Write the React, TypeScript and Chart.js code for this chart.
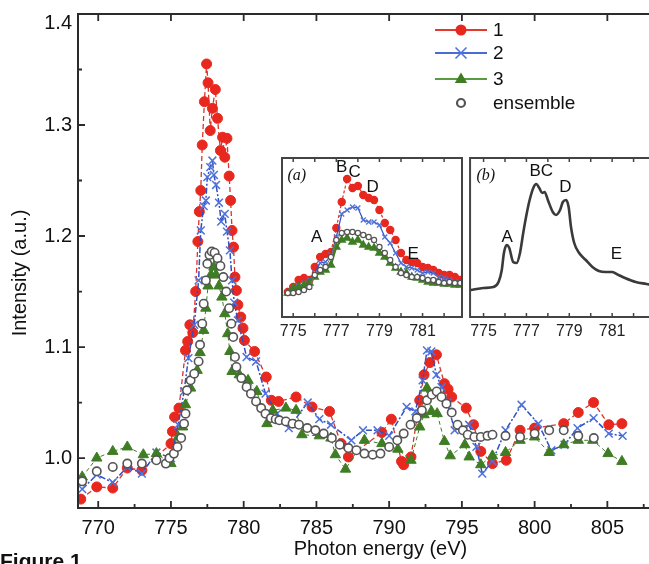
import React, { useEffect, useRef } from 'react';
import { Chart, registerables } from 'chart.js';
Chart.register(...registerables);

// ---------- main spectrum data ----------
const redEnergy = [768.8, 769.9, 771.0, 772.0, 773.0, 775.0, 775.1, 775.25, 775.55, 776.0, 776.15, 776.3, 776.5, 776.7, 776.85, 776.95, 777.05, 777.15, 777.3, 777.45, 777.55, 777.7, 777.85, 778.05, 778.2, 778.4, 778.55, 778.7, 778.85, 779.0, 779.1, 779.2, 779.3, 779.4, 779.5, 779.6, 779.8, 779.95, 780.05, 780.75, 781.55, 781.9, 782.4, 783.6, 784.7, 785.9, 786.7, 787.2, 789.5, 790.15, 790.85, 791.0, 791.5, 792.1, 792.4, 792.8, 793.25, 793.8, 794.05, 794.3, 795.3, 795.8, 796.3, 797.1, 798.05, 799.0, 800.0, 802.0, 803.0, 804.05, 805.1, 806.0];
const redIntensity = [0.963, 0.974, 0.973, 0.991, 0.989, 1.013, 1.024, 1.037, 1.045, 1.097, 1.105, 1.12, 1.113, 1.15, 1.195, 1.222, 1.241, 1.282, 1.321, 1.355, 1.338, 1.295, 1.315, 1.332, 1.306, 1.277, 1.289, 1.271, 1.288, 1.254, 1.232, 1.205, 1.19, 1.163, 1.151, 1.138, 1.127, 1.117, 1.106, 1.096, 1.073, 1.052, 1.051, 1.055, 1.046, 1.042, 1.013, 1.001, 1.023, 1.035, 0.997, 0.994, 1.001, 1.052, 1.075, 1.086, 1.093, 1.067, 1.062, 1.055, 1.045, 1.03, 1.006, 0.995, 0.998, 1.025, 1.027, 1.031, 1.041, 1.05, 1.03, 1.031];

const blueEnergy = [768.9, 769.9, 771.0, 772.0, 773.0, 774.0, 775.0, 775.5, 775.9, 776.2, 776.6, 776.9, 777.05, 777.25, 777.4, 777.5, 777.7, 777.85, 777.95, 778.1, 778.3, 778.45, 778.7, 778.85, 779.05, 779.2, 779.35, 779.6, 780.2, 780.85, 781.5, 782.3, 783.1, 784.4, 785.2, 786.0, 787.4, 788.2, 789.2, 790.0, 791.2, 791.8, 792.3, 792.6, 792.9, 793.25, 793.6, 794.0, 794.5, 795.5, 796.0, 796.4, 797.1, 798.0, 799.1, 800.25, 801.15, 802.05, 802.95, 804.05, 805.1, 806.05];
const blueIntensity = [0.972, 0.985, 0.978, 0.992, 0.986, 1.005, 1.0, 1.03, 1.06, 1.09, 1.12, 1.16, 1.205, 1.227, 1.232, 1.253, 1.262, 1.268, 1.255, 1.246, 1.23, 1.213, 1.22, 1.204, 1.187, 1.16, 1.14, 1.124, 1.091, 1.087, 1.058, 1.04, 1.027, 1.05, 1.035, 1.03, 1.016, 1.025, 1.025, 1.02, 1.046, 1.042, 1.07, 1.097, 1.096, 1.075, 1.064, 1.05, 1.025, 1.03, 1.01, 0.986, 0.997, 1.025, 1.048, 1.031, 1.007, 1.012, 1.027, 1.036, 1.022, 1.02];

const greenEnergy = [768.9, 769.9, 771.0, 772.0, 773.1, 774.0, 775.0, 775.5, 775.8, 776.0, 776.35, 776.8, 777.0, 777.25, 777.4, 777.55, 777.75, 777.95, 778.1, 778.3, 778.5, 778.7, 778.9, 779.05, 779.2, 779.7, 780.3, 780.9, 781.6, 782.0, 782.9, 783.6, 784.0, 785.2, 786.0, 786.3, 787.0, 788.3, 789.5, 790.6, 791.5, 792.1, 792.4, 792.6, 792.9, 793.3, 793.8, 794.2, 795.2, 795.5, 796.3, 797.1, 798.0, 799.0, 800.0, 801.0, 802.0, 803.0, 804.0, 805.05, 806.0];
const greenIntensity = [0.983, 1.0, 1.006, 1.01, 1.003, 1.004, 0.995, 1.019, 1.028, 1.048, 1.063, 1.079, 1.095, 1.115, 1.135, 1.155, 1.165, 1.172, 1.165, 1.155, 1.145, 1.13, 1.112, 1.096, 1.078, 1.075, 1.07, 1.06, 1.031, 1.043, 1.045, 1.043, 1.021, 1.02, 1.018, 1.003, 0.99, 1.016, 1.013, 1.008, 0.998, 1.028, 1.039, 1.063, 1.042, 1.04, 1.015, 1.002, 1.012, 1.001, 0.994, 1.002, 1.005, 1.016, 1.019, 1.005, 1.012, 1.016, 1.016, 1.004, 0.997];

const ensembleEnergy = [768.9, 769.9, 771.0, 772.0, 773.0, 774.0, 774.65, 774.9, 775.2, 775.45, 775.7, 775.9, 776.0, 776.1, 776.35, 776.6, 776.9, 777.0, 777.15, 777.25, 777.4, 777.5, 777.65, 777.8, 778.0, 778.2, 778.4, 778.6, 778.8, 779.0, 779.15, 779.28, 779.4, 779.5, 779.84, 780.2, 780.5, 780.85, 781.2, 781.5, 781.87, 782.2, 782.45, 782.9, 783.36, 783.8, 784.37, 784.93, 785.5, 786.06, 786.6, 787.2, 787.75, 788.3, 788.87, 789.4, 790.0, 790.56, 791.0, 791.47, 791.9, 792.25, 792.6, 792.93, 793.27, 793.6, 793.94, 794.3, 794.7, 795.07, 795.4, 795.86, 796.3, 796.76, 797.1, 798.0, 799.0, 800.0, 801.0, 802.0, 803.0, 804.07];
const ensembleIntensity = [0.979, 0.988, 0.992, 0.995, 0.995, 0.998, 0.995, 1.0, 1.004, 1.01, 1.018, 1.031, 1.04, 1.061, 1.07, 1.076, 1.087, 1.102, 1.121, 1.139, 1.16, 1.175, 1.183, 1.186, 1.185, 1.18, 1.173, 1.163, 1.15, 1.135, 1.121, 1.109, 1.091, 1.082, 1.072, 1.064, 1.058, 1.051, 1.045, 1.04, 1.036, 1.035, 1.034, 1.033, 1.031, 1.03, 1.027, 1.025, 1.022, 1.018, 1.012, 1.009, 1.007, 1.004, 1.003, 1.004, 1.01, 1.016, 1.022, 1.03, 1.036, 1.043, 1.052, 1.057, 1.06, 1.055, 1.049, 1.041, 1.03, 1.025, 1.021, 1.019, 1.019, 1.02, 1.021, 1.02, 1.019, 1.022, 1.025, 1.025, 1.02, 1.018];

const seriesNames = ['1', '2', '3', 'ensemble'];
const xMajorTicks = [770, 775, 780, 785, 790, 795, 800, 805];
const xMinorTicks = [772.5, 777.5, 782.5, 787.5, 792.5, 797.5, 802.5, 807.5];
const yMajorTicks = [1.0, 1.1, 1.2, 1.3, 1.4];
const yMinorTicks = [1.05, 1.15, 1.25, 1.35];

// ---------- inset (a): zoom of L3 edge ----------
const insetAEnergy = [774.75, 775.0, 775.25, 775.5, 775.75, 776.0, 776.25, 776.5, 776.75, 777.0, 777.25, 777.5, 777.75, 778.0, 778.25, 778.5, 778.75, 779.0, 779.25, 779.5, 779.75, 780.0, 780.25, 780.5, 780.75, 781.0, 781.25, 781.5, 781.75, 782.0, 782.25, 782.5, 782.75];
const insetARed = [25, 30, 37, 39, 37, 50, 60, 63, 65, 89, 115, 138, 129, 131, 122, 119, 117, 107, 94, 87, 77, 64, 57, 55, 54, 50, 49, 47, 44, 42, 42, 40, 37];
const insetABlue = [25, 28, 30, 34, 37, 44, 54, 55, 62, 80, 103, 107, 110, 109, 97, 95, 95, 92, 80, 74, 64, 54, 50, 49, 47, 44, 45, 44, 40, 39, 37, 35, 34];
const insetAGreen = [24, 29, 30, 32, 34, 40, 45, 47, 52, 70, 77, 79, 75, 77, 72, 70, 69, 64, 60, 54, 49, 45, 44, 40, 39, 37, 35, 34, 34, 33, 33, 32, 32];
const insetAEnsemble = [24, 24, 25, 27, 30, 42, 47, 50, 60, 77, 84, 85, 85, 84, 82, 80, 77, 70, 64, 57, 50, 44, 42, 40, 40, 39, 37, 37, 35, 34, 35, 34, 34];
const insetALabels = ['A', 'B', 'C', 'D', 'E'];
const insetALabelX = [776.09, 777.25, 777.85, 778.68, 780.57];
const insetALabelY = [80, 150, 145, 130, 63];

// ---------- inset (b): reference spectrum ----------
const insetBEnergy = [774.4, 775.0, 775.46, 775.7, 775.85, 775.95, 776.08, 776.2, 776.38, 776.54, 776.7, 776.85, 777.0, 777.15, 777.34, 777.46, 777.6, 777.74, 777.85, 778.0, 778.23, 778.38, 778.57, 778.7, 778.85, 778.97, 779.08, 779.23, 779.46, 779.77, 780.08, 780.38, 780.7, 781.0, 781.3, 781.6, 782.1, 782.6, 782.85];
const insetBIntensity = [27, 29, 30, 35, 47, 64, 72, 69, 55, 54, 64, 84, 102, 117, 130, 133, 129, 124, 125, 117, 105, 102, 107, 115, 117, 110, 90, 74, 64, 57, 50, 46, 45, 45, 42, 39, 35, 33, 32];
const insetBLabels = ['A', 'BC', 'D', 'E'];
const insetBLabelX = [776.1, 777.69, 778.82, 781.2];
const insetBLabelY = [80, 146, 130, 63];

const insetTickLabels = [775, 777, 779, 781];
const insetTickMarks = [775, 776, 777, 778, 779, 780, 781, 782];

const SANS = '"Liberation Sans", Arial, sans-serif';
const RED = '#e8281e';
const BLUE = '#4f72dc';
const BLUE_LINE = '#2f4fc4';
const GREEN = '#3f7d25';
const ENS = '#555555';

const pts = (xs: number[], ys: number[]) => xs.map((x, i) => ({ x, y: ys[i] }));

function drawMarker(ctx: CanvasRenderingContext2D, kind: string, x: number, y: number, r: number) {
  ctx.beginPath();
  if (kind === 'circle') {
    ctx.arc(x, y, r, 0, Math.PI * 2);
    ctx.fill();
  } else if (kind === 'cross') {
    ctx.moveTo(x - r, y - r); ctx.lineTo(x + r, y + r);
    ctx.moveTo(x + r, y - r); ctx.lineTo(x - r, y + r);
    ctx.stroke();
  } else if (kind === 'triangle') {
    ctx.moveTo(x, y - r);
    ctx.lineTo(x + r * 0.95, y + r * 0.6);
    ctx.lineTo(x - r * 0.95, y + r * 0.6);
    ctx.closePath();
    ctx.fill();
  } else if (kind === 'ring') {
    ctx.arc(x, y, r, 0, Math.PI * 2);
    ctx.fillStyle = '#fff';
    ctx.fill();
    ctx.stroke();
  }
}

const mainDecor = {
  id: 'mainDecor',
  afterDraw(chart: any) {
    const { ctx, chartArea: a, scales } = chart;
    const x = scales.x, y = scales.y;
    ctx.save();
    ctx.strokeStyle = '#2b2b2b';
    ctx.lineWidth = 2;
    ctx.beginPath();
    ctx.moveTo(a.left, a.top); ctx.lineTo(a.right, a.top);
    ctx.moveTo(a.left, a.top - 1); ctx.lineTo(a.left, a.bottom + 1);
    ctx.moveTo(a.left, a.bottom); ctx.lineTo(a.right, a.bottom);
    ctx.stroke();
    ctx.lineWidth = 1.8;
    ctx.beginPath();
    xMajorTicks.forEach((v) => {
      const px = x.getPixelForValue(v);
      ctx.moveTo(px, a.bottom); ctx.lineTo(px, a.bottom - 7);
      ctx.moveTo(px, a.top); ctx.lineTo(px, a.top + 7);
    });
    xMinorTicks.forEach((v) => {
      const px = x.getPixelForValue(v);
      ctx.moveTo(px, a.bottom); ctx.lineTo(px, a.bottom - 4);
    });
    yMajorTicks.forEach((v) => {
      const py = y.getPixelForValue(v);
      ctx.moveTo(a.left, py); ctx.lineTo(a.left + 7, py);
    });
    yMinorTicks.forEach((v) => {
      const py = y.getPixelForValue(v);
      ctx.moveTo(a.left, py); ctx.lineTo(a.left + 4, py);
    });
    ctx.stroke();

    // y tick labels (the topmost one sits just inside the frame, as in the figure)
    ctx.fillStyle = '#111';
    ctx.font = `20px ${SANS}`;
    ctx.textAlign = 'right';
    ctx.textBaseline = 'middle';
    yMajorTicks.forEach((v) => {
      const py = Math.max(y.getPixelForValue(v), a.top + 9);
      ctx.fillText(v.toFixed(1), a.left - 6, py);
    });

    // y-axis title
    ctx.save();
    ctx.translate(20, 273);
    ctx.rotate(-Math.PI / 2);
    ctx.fillStyle = '#111';
    ctx.font = `20px ${SANS}`;
    ctx.textAlign = 'center';
    ctx.textBaseline = 'middle';
    ctx.fillText('Intensity (a.u.)', 0, 0);
    ctx.restore();

    // legend
    const rows = [30, 53, 79, 103];
    const lineCols = ['#e5392e', '#4a6bd6', '#5a9a40', null];
    const kinds = ['circle', 'cross', 'triangle', 'ring'];
    const fills = [RED, BLUE, GREEN, '#fff'];
    rows.forEach((ry, i) => {
      const lc = lineCols[i];
      if (lc) {
        ctx.strokeStyle = lc;
        ctx.lineWidth = 2;
        ctx.beginPath();
        ctx.moveTo(435, ry); ctx.lineTo(487, ry);
        ctx.stroke();
      }
      ctx.fillStyle = fills[i];
      ctx.strokeStyle = i === 1 ? BLUE : ENS;
      ctx.lineWidth = i === 3 ? 2.2 : 1.6;
      drawMarker(ctx, kinds[i], 461, ry, i === 2 ? 6.5 : i === 3 ? 4 : 5.5);
      ctx.fillStyle = '#111';
      ctx.font = `19px ${SANS}`;
      ctx.textAlign = 'left';
      ctx.textBaseline = 'middle';
      ctx.fillText(seriesNames[i], 493, ry + 1);
    });

    // figure caption (cropped at the bottom edge)
    ctx.fillStyle = '#111';
    ctx.font = `bold 21px ${SANS}`;
    ctx.textAlign = 'left';
    ctx.textBaseline = 'alphabetic';
    ctx.fillText('Figure 1', 0, 568);
    ctx.restore();
  },
};

function insetDecor(tag: string, labels: string[], lx: number[], ly: number[], tagX: number) {
  return {
    id: 'insetDecor',
    beforeDraw(chart: any) {
      const { ctx, width, height } = chart;
      ctx.save();
      ctx.fillStyle = '#fff';
      ctx.fillRect(0, 0, width, height);
      ctx.restore();
    },
    afterDraw(chart: any) {
      const { ctx, chartArea: a, scales } = chart;
      const x = scales.x, y = scales.y;
      ctx.save();
      ctx.strokeStyle = '#444';
      ctx.lineWidth = 2;
      ctx.strokeRect(a.left, a.top, a.right - a.left, a.bottom - a.top);
      ctx.lineWidth = 1.5;
      ctx.beginPath();
      insetTickMarks.forEach((v) => {
        const px = x.getPixelForValue(v);
        ctx.moveTo(px, a.bottom); ctx.lineTo(px, a.bottom - 4);
        ctx.moveTo(px, a.top); ctx.lineTo(px, a.top + 4);
      });
      ctx.stroke();
      ctx.fillStyle = '#111';
      ctx.textAlign = 'center';
      ctx.textBaseline = 'middle';
      ctx.font = `italic 16px "Liberation Serif", "Times New Roman", serif`;
      ctx.fillText(tag, x.getPixelForValue(tagX), y.getPixelForValue(141));
      ctx.font = `17px ${SANS}`;
      labels.forEach((t, i) => {
        ctx.fillText(t, x.getPixelForValue(lx[i]), y.getPixelForValue(ly[i]));
      });
      ctx.restore();
    },
  };
}

function insetXScale(min: number, max: number) {
  return {
    type: 'linear',
    min,
    max,
    grid: { display: false, drawTicks: false },
    border: { display: false },
    ticks: { font: { size: 16, family: SANS }, color: '#222', padding: 5, callback: (v: any) => String(v) },
    afterBuildTicks: (s: any) => { s.ticks = insetTickLabels.map((v) => ({ value: v })); },
    afterFit: (s: any) => { s.height = 28; },
  };
}

const baseOpts = {
  animation: false,
  responsive: false,
  devicePixelRatio: 1,
  plugins: { legend: { display: false }, tooltip: { enabled: false } },
};

export default function App() {
  const mainRef = useRef<HTMLCanvasElement>(null);
  const aRef = useRef<HTMLCanvasElement>(null);
  const bRef = useRef<HTMLCanvasElement>(null);

  useEffect(() => {
    document.documentElement.style.overflow = 'hidden';
    document.body.style.overflow = 'hidden';

    const main = new Chart(mainRef.current as HTMLCanvasElement, {
      type: 'line',
      data: {
        datasets: [
          {
            label: seriesNames[3], data: pts(ensembleEnergy, ensembleIntensity), showLine: false, order: 0,
            pointStyle: 'circle', pointRadius: 4.2, pointBackgroundColor: '#fff', pointBorderColor: ENS, pointBorderWidth: 1.6,
          },
          {
            label: seriesNames[2], data: pts(greenEnergy, greenIntensity), order: 1,
            borderColor: GREEN, borderWidth: 1, borderDash: [4, 3], fill: false,
            pointStyle: 'triangle', pointRadius: 6, pointBackgroundColor: GREEN, pointBorderColor: GREEN, pointBorderWidth: 1,
          },
          {
            label: seriesNames[1], data: pts(blueEnergy, blueIntensity), order: 2,
            borderColor: BLUE_LINE, borderWidth: 1.5, borderDash: [6, 2, 2, 2], fill: false,
            pointStyle: 'crossRot', pointRadius: 5.5, pointBorderColor: BLUE, pointBorderWidth: 1.5,
          },
          {
            label: seriesNames[0], data: pts(redEnergy, redIntensity), order: 3,
            borderColor: '#d9342b', borderWidth: 1.3, borderDash: [5, 3], fill: false,
            pointStyle: 'circle', pointRadius: 5, pointBackgroundColor: RED, pointBorderColor: RED, pointBorderWidth: 1,
          },
        ],
      },
      options: {
        ...baseOpts,
        layout: { padding: { left: 0, top: 14, right: 0, bottom: 0 } },
        scales: {
          x: {
            type: 'linear', min: 768.61, max: 810.2,
            grid: { display: false, drawTicks: false }, border: { display: false },
            ticks: { font: { size: 20, family: SANS }, color: '#111', padding: 8, callback: (v: any) => String(v) },
            afterBuildTicks: (s: any) => { s.ticks = xMajorTicks.map((v) => ({ value: v })); },
            afterFit: (s: any) => { s.height = 56; },
            title: { display: true, text: 'Photon energy (eV)', font: { size: 20, family: SANS }, color: '#111', padding: { top: 0, bottom: 3 } },
          },
          y: {
            type: 'linear', min: 0.955, max: 1.4,
            grid: { display: false, drawTicks: false }, border: { display: false },
            ticks: { display: false },
            afterBuildTicks: (s: any) => { s.ticks = yMajorTicks.map((v) => ({ value: v })); },
            afterFit: (s: any) => { s.width = 78; },
          },
        },
      } as any,
      plugins: [mainDecor],
    } as any);

    const insetA = new Chart(aRef.current as HTMLCanvasElement, {
      type: 'line',
      data: {
        datasets: [
          {
            data: pts(insetAEnergy, insetAEnsemble), order: 0, borderColor: '#777', borderWidth: 1, fill: false,
            pointStyle: 'circle', pointRadius: 2.6, pointBackgroundColor: '#fff', pointBorderColor: '#555', pointBorderWidth: 1.2,
          },
          {
            data: pts(insetAEnergy, insetAGreen), order: 1, borderColor: GREEN, borderWidth: 2, fill: false,
            pointStyle: 'triangle', pointRadius: 3.5, pointBackgroundColor: GREEN, pointBorderColor: GREEN,
          },
          {
            data: pts(insetAEnergy, insetABlue), order: 2, borderColor: BLUE_LINE, borderWidth: 1.2, fill: false,
            pointStyle: 'crossRot', pointRadius: 3.5, pointBorderColor: BLUE, pointBorderWidth: 1.3,
          },
          {
            data: pts(insetAEnergy, insetARed), order: 3, borderColor: '#d9342b', borderWidth: 1.2, borderDash: [3, 2], fill: false,
            pointStyle: 'circle', pointRadius: 3.6, pointBackgroundColor: RED, pointBorderColor: RED,
          },
        ],
      },
      options: {
        ...baseOpts,
        layout: { padding: { left: 12, top: 8, right: 5, bottom: 0 } },
        scales: {
          x: insetXScale(774.48, 782.83),
          y: { display: false, min: 0, max: 159 },
        },
      } as any,
      plugins: [insetDecor('(a)', insetALabels, insetALabelX, insetALabelY, 775.17)],
    } as any);

    const insetB = new Chart(bRef.current as HTMLCanvasElement, {
      type: 'line',
      data: {
        datasets: [
          {
            data: pts(insetBEnergy, insetBIntensity), borderColor: '#3a3a3a', borderWidth: 2.6, fill: false,
            pointRadius: 0, tension: 0.35, cubicInterpolationMode: 'monotone',
          },
        ],
      },
      options: {
        ...baseOpts,
        layout: { padding: { left: 3, top: 8, right: 38, bottom: 0 } },
        scales: {
          x: insetXScale(774.37, 782.86),
          y: { display: false, min: 0, max: 159 },
        },
      } as any,
      plugins: [insetDecor('(b)', insetBLabels, insetBLabelX, insetBLabelY, 775.1)],
    } as any);

    return () => {
      main.destroy();
      insetA.destroy();
      insetB.destroy();
    };
  }, []);

  return (
    <div style={{ position: 'fixed', left: 0, top: 0, width: 690, height: 564, background: '#fff', overflow: 'hidden' }}>
      <canvas ref={mainRef} width={690} height={564} style={{ position: 'absolute', left: 0, top: 0 }} />
      <canvas ref={aRef} width={198} height={195} style={{ position: 'absolute', left: 270, top: 150 }} />
      <canvas ref={bRef} width={225} height={195} style={{ position: 'absolute', left: 465, top: 150 }} />
    </div>
  );
}
